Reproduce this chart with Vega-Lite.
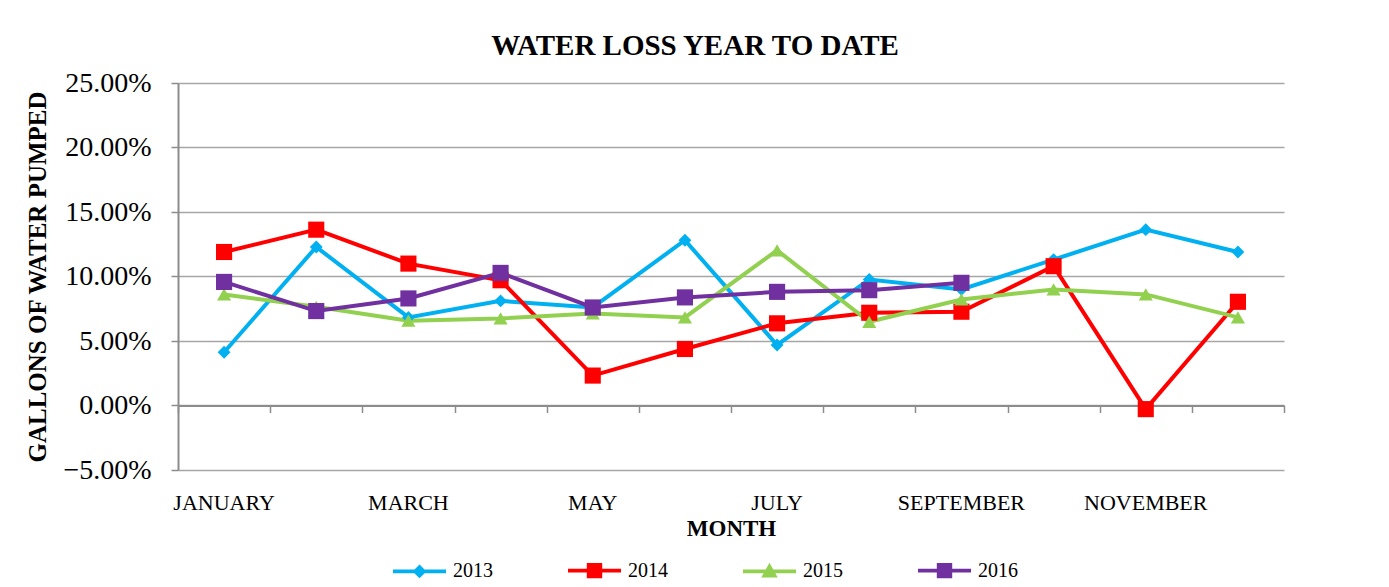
{
  "$schema": "https://vega.github.io/schema/vega-lite/v6.json",
  "width": 1106,
  "height": 387,
  "autosize": "none",
  "padding": {"left": 178, "top": 83, "right": 105, "bottom": 117},
  "background": "white",
  "title": {
    "text": "WATER LOSS YEAR TO DATE",
    "font": "Liberation Serif",
    "fontSize": 29,
    "fontWeight": "bold",
    "color": "black",
    "anchor": "middle",
    "frame": "group",
    "dx": -36,
    "offset": 8
  },
  "config": {
    "view": {"stroke": null},
    "font": "Liberation Serif"
  },
  "data": {
    "values": [
      {"month": "JANUARY", "year": "2013", "loss": 0.0413},
      {"month": "FEBRUARY", "year": "2013", "loss": 0.1229},
      {"month": "MARCH", "year": "2013", "loss": 0.0683},
      {"month": "APRIL", "year": "2013", "loss": 0.0811},
      {"month": "MAY", "year": "2013", "loss": 0.0760},
      {"month": "JUNE", "year": "2013", "loss": 0.1281},
      {"month": "JULY", "year": "2013", "loss": 0.0469},
      {"month": "AUGUST", "year": "2013", "loss": 0.0977},
      {"month": "SEPTEMBER", "year": "2013", "loss": 0.0900},
      {"month": "OCTOBER", "year": "2013", "loss": 0.1131},
      {"month": "NOVEMBER", "year": "2013", "loss": 0.1363},
      {"month": "DECEMBER", "year": "2013", "loss": 0.1190},
      {"month": "JANUARY", "year": "2014", "loss": 0.1190},
      {"month": "FEBRUARY", "year": "2014", "loss": 0.1363},
      {"month": "MARCH", "year": "2014", "loss": 0.1100},
      {"month": "APRIL", "year": "2014", "loss": 0.0971},
      {"month": "MAY", "year": "2014", "loss": 0.0232},
      {"month": "JUNE", "year": "2014", "loss": 0.0438},
      {"month": "JULY", "year": "2014", "loss": 0.0637},
      {"month": "AUGUST", "year": "2014", "loss": 0.0719},
      {"month": "SEPTEMBER", "year": "2014", "loss": 0.0727},
      {"month": "OCTOBER", "year": "2014", "loss": 0.1080},
      {"month": "NOVEMBER", "year": "2014", "loss": -0.0028},
      {"month": "DECEMBER", "year": "2014", "loss": 0.0804},
      {"month": "JANUARY", "year": "2015", "loss": 0.0861},
      {"month": "FEBRUARY", "year": "2015", "loss": 0.0765},
      {"month": "MARCH", "year": "2015", "loss": 0.0657},
      {"month": "APRIL", "year": "2015", "loss": 0.0675},
      {"month": "MAY", "year": "2015", "loss": 0.0714},
      {"month": "JUNE", "year": "2015", "loss": 0.0683},
      {"month": "JULY", "year": "2015", "loss": 0.1203},
      {"month": "AUGUST", "year": "2015", "loss": 0.0649},
      {"month": "SEPTEMBER", "year": "2015", "loss": 0.0822},
      {"month": "OCTOBER", "year": "2015", "loss": 0.0900},
      {"month": "NOVEMBER", "year": "2015", "loss": 0.0861},
      {"month": "DECEMBER", "year": "2015", "loss": 0.0683},
      {"month": "JANUARY", "year": "2016", "loss": 0.0958},
      {"month": "FEBRUARY", "year": "2016", "loss": 0.0732},
      {"month": "MARCH", "year": "2016", "loss": 0.0830},
      {"month": "APRIL", "year": "2016", "loss": 0.1028},
      {"month": "MAY", "year": "2016", "loss": 0.0760},
      {"month": "JUNE", "year": "2016", "loss": 0.0838},
      {"month": "JULY", "year": "2016", "loss": 0.0881},
      {"month": "AUGUST", "year": "2016", "loss": 0.0894},
      {"month": "SEPTEMBER", "year": "2016", "loss": 0.0951}
    ]
  },
  "encoding": {
    "y": {
      "field": "loss",
      "type": "quantitative",
      "scale": {"domain": [-0.05, 0.25], "nice": false, "zero": false},
      "axis": {
        "title": "GALLONS OF WATER PUMPED",
        "titleFont": "Liberation Serif",
        "titleFontSize": 25,
        "titleFontWeight": "bold",
        "titleColor": "black",
        "titlePadding": 12,
        "values": [-0.05, 0, 0.05, 0.1, 0.15, 0.2, 0.25],
        "format": ".2%",
        "labelFont": "Liberation Serif",
        "labelFontSize": 28,
        "labelColor": "black",
        "labelPadding": 20,
        "tickSize": 7,
        "tickColor": "#8c8c8c",
        "tickWidth": 1.5,
        "domainColor": "#8c8c8c",
        "domainWidth": 2,
        "grid": true,
        "gridColor": "#a6a6a6",
        "gridWidth": 1.5
      }
    }
  },
  "layer": [
    {
      "mark": {"type": "line", "strokeWidth": 4},
      "encoding": {
        "x": {
          "field": "month",
          "type": "ordinal",
          "bandPosition": 0.5,
          "scale": {
            "type": "band",
            "domain": ["JANUARY", "FEBRUARY", "MARCH", "APRIL", "MAY", "JUNE", "JULY", "AUGUST", "SEPTEMBER", "OCTOBER", "NOVEMBER", "DECEMBER"],
            "paddingInner": 0,
            "paddingOuter": 0
          },
          "axis": {
            "orient": "bottom",
            "title": "MONTH",
            "titleFont": "Liberation Serif",
            "titleFontSize": 23,
            "titleFontWeight": "bold",
            "titleColor": "black",
            "titlePadding": 4,
            "values": ["JANUARY", "MARCH", "MAY", "JULY", "SEPTEMBER", "NOVEMBER"],
            "labelAngle": 0,
            "labelFont": "Liberation Serif",
            "labelFontSize": 22,
            "labelColor": "black",
            "labelPadding": 22,
            "ticks": false,
            "domain": false,
            "grid": false
          }
        },
        "color": {
          "field": "year",
          "type": "nominal",
          "scale": {
            "domain": ["2013", "2014", "2015", "2016"],
            "range": ["#00B0F0", "#FF0000", "#92D050", "#7030A0"]
          },
          "legend": {
            "title": null,
            "orient": "none",
            "legendX": 213,
            "legendY": 459,
            "direction": "horizontal",
            "columns": 4,
            "padding": 0,
            "columnPadding": 67,
            "symbolSize": 2809,
            "symbolStrokeWidth": 3.75,
            "symbolOpacity": 1,
            "labelFont": "Liberation Serif",
            "labelFontSize": 20,
            "labelColor": "black",
            "labelOffset": 5,
            "encode": {
              "symbols": {
                "update": {
                  "shape": {"signal": "datum.value == '2013' ? 'M-1,0H1M0,-0.16L0.16,0L0,0.16L-0.16,0Z' : datum.value == '2015' ? 'M-1,0H1M0,-0.18L0.19,0.16H-0.19Z' : 'M-1,0H1M-0.22,-0.22H0.22V0.22H-0.22Z'"},
                  "fill": {"scale": "color", "field": "value"},
                  "stroke": {"scale": "color", "field": "value"},
                  "strokeWidth": {"value": 3.75}
                }
              }
            }
          }
        }
      }
    },
    {
      "transform": [{"filter": "datum.year == '2013'"}],
      "mark": {"type": "point", "filled": true, "opacity": 1, "shape": "diamond", "size": 165},
      "encoding": {
        "x": {
          "field": "month",
          "type": "ordinal",
          "bandPosition": 0.5,
          "scale": {
            "type": "band",
            "domain": ["JANUARY", "FEBRUARY", "MARCH", "APRIL", "MAY", "JUNE", "JULY", "AUGUST", "SEPTEMBER", "OCTOBER", "NOVEMBER", "DECEMBER"],
            "paddingInner": 0,
            "paddingOuter": 0
          },
          "axis": {
            "orient": "bottom",
            "offset": -64.5,
            "title": null,
            "labels": false,
            "tickBand": "extent",
            "tickSize": 7,
            "tickColor": "#8c8c8c",
            "tickWidth": 1.5,
            "domainColor": "#8c8c8c",
            "domainWidth": 2,
            "grid": false
          }
        },
        "color": {"field": "year", "type": "nominal", "legend": null}
      }
    },
    {
      "transform": [{"filter": "datum.year == '2014'"}],
      "mark": {"type": "point", "filled": true, "opacity": 1, "shape": "square", "size": 260},
      "encoding": {
        "x": {"field": "month", "type": "ordinal", "bandPosition": 0.5, "axis": null},
        "color": {"field": "year", "type": "nominal", "legend": null}
      }
    },
    {
      "transform": [{"filter": "datum.year == '2015'"}],
      "mark": {"type": "point", "filled": true, "opacity": 1, "shape": "triangle-up", "size": 200},
      "encoding": {
        "x": {"field": "month", "type": "ordinal", "bandPosition": 0.5, "axis": null},
        "color": {"field": "year", "type": "nominal", "legend": null}
      }
    },
    {
      "transform": [{"filter": "datum.year == '2016'"}],
      "mark": {"type": "point", "filled": true, "opacity": 1, "shape": "square", "size": 260},
      "encoding": {
        "x": {"field": "month", "type": "ordinal", "bandPosition": 0.5, "axis": null},
        "color": {"field": "year", "type": "nominal", "legend": null}
      }
    }
  ],
  "resolve": {"axis": {"x": "independent"}}
}
